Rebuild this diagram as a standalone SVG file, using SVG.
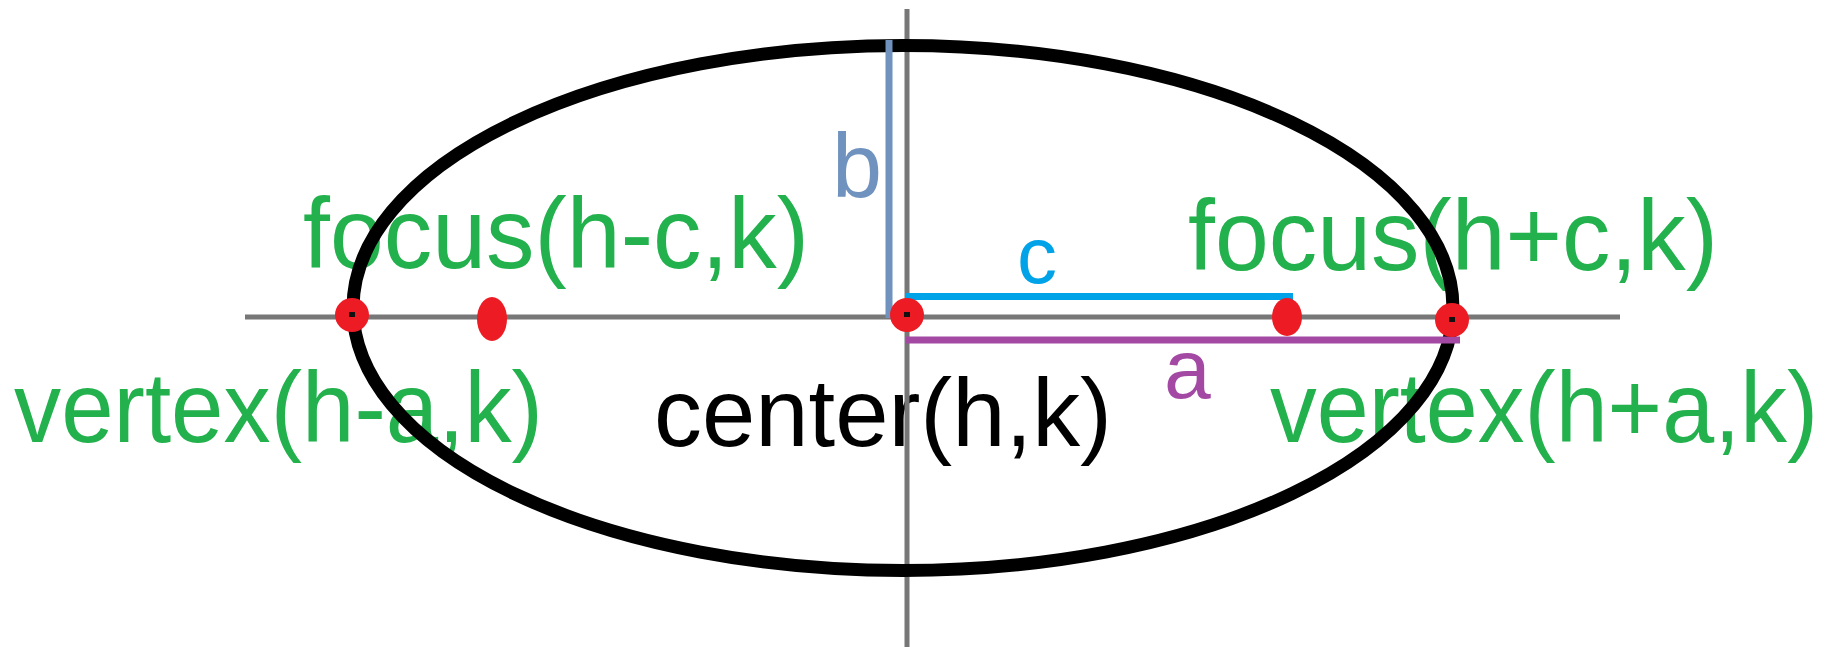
<svg xmlns="http://www.w3.org/2000/svg" width="1839" height="647" viewBox="0 0 1839 647">
<style>
.lbl{font-family:"Liberation Sans",Arial,sans-serif;}
.grn{fill:#22b14c;font-size:100px;}
.axis{stroke:#777777;stroke-width:5;fill:none;}
.pt{fill:#ed1c24;}
.pc{fill:#111111;}
</style>
<rect width="1839" height="647" fill="#ffffff"/>
<g id="labels">
<text id="focus-left" class="lbl grn" x="303" y="268" textLength="506" lengthAdjust="spacingAndGlyphs">focus(h-c,k)</text>
<text id="focus-right" class="lbl grn" x="1188" y="270" textLength="530" lengthAdjust="spacingAndGlyphs">focus(h+c,k)</text>
<text id="vertex-left" class="lbl grn" x="14" y="442" textLength="529" lengthAdjust="spacingAndGlyphs">vertex(h-a,k)</text>
<text id="vertex-right" class="lbl grn" x="1270" y="442" textLength="548" lengthAdjust="spacingAndGlyphs">vertex(h+a,k)</text>
<text id="center-label" class="lbl" x="654" y="446" font-size="96" fill="#000000" textLength="458" lengthAdjust="spacingAndGlyphs">center(h,k)</text>
</g>
<g id="axes">
<line class="axis" x1="245" y1="317" x2="1620" y2="317"/>
<line class="axis" x1="907" y1="9" x2="907" y2="647"/>
</g>
<g id="ellipse">
<ellipse cx="903" cy="308" rx="550" ry="262.5" fill="none" stroke="#000000" stroke-width="13"/>
</g>
<g id="connectors">
<line id="seg-b" x1="889" y1="40" x2="889" y2="318" stroke="#7092be" stroke-width="7"/>
<line id="seg-c" x1="905" y1="296.5" x2="1293" y2="296.5" stroke="#00a2e8" stroke-width="7"/>
<line id="seg-a" x1="906" y1="340" x2="1460" y2="340" stroke="#a349a4" stroke-width="7"/>
</g>
<g id="segment-labels">
<text class="lbl" x="832" y="197" font-size="90" fill="#7092be">b</text>
<text class="lbl" x="1017" y="283" font-size="80" fill="#00a2e8">c</text>
<text class="lbl" x="1164" y="398" font-size="84" fill="#a349a4">a</text>
</g>
<g id="vertex-left-pt"><circle class="pt" cx="352" cy="315" r="17"/><rect class="pc" x="349" y="312" width="6" height="5"/></g>
<g id="focus-left-pt"><ellipse class="pt" cx="492" cy="319" rx="15" ry="22"/></g>
<g id="center-pt"><circle class="pt" cx="907" cy="315" r="17"/><rect class="pc" x="904" y="312" width="6" height="5"/></g>
<g id="focus-right-pt"><ellipse class="pt" cx="1287" cy="317" rx="15" ry="19"/></g>
<g id="vertex-right-pt"><circle class="pt" cx="1452" cy="320" r="17"/><rect class="pc" x="1449" y="317" width="6" height="5"/></g>
</svg>
